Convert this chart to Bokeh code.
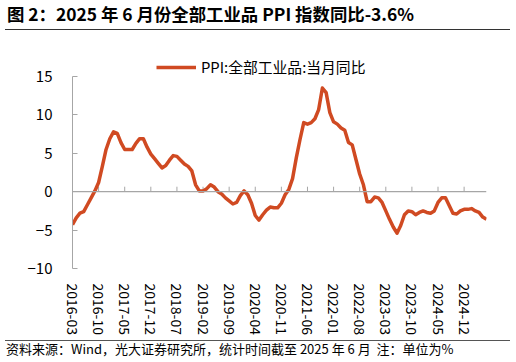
import pandas as pd
from bokeh.plotting import figure
from bokeh.layouts import column
from bokeh.models import (Range1d, FixedTicker, Span, Div, Legend, LegendItem,
                          ColumnDataSource)
from bokeh.embed import file_html
from bokeh.resources import INLINE

# ---- data ----
months = [str(p) for p in pd.period_range("2016-03", "2025-06", freq="M")]
ppi_yoy = [
    -4.3, -3.4, -2.8, -2.6, -1.7, -0.8, 0.1, 1.2, 3.3, 5.5,
    6.9, 7.8, 7.6, 6.4, 5.5, 5.5, 5.5, 6.3, 6.9, 6.9, 5.8, 4.9,
    4.3, 3.7, 3.1, 3.4, 4.1, 4.7, 4.6, 4.1, 3.6, 3.3, 2.7, 0.9,
    0.1, 0.1, 0.4, 0.9, 0.6, 0.0, -0.3, -0.8, -1.2, -1.6, -1.4, -0.5,
    0.1, -0.4, -1.5, -3.1, -3.7, -3.0, -2.4, -2.0, -2.1, -2.1, -1.5, -0.4,
    0.3, 1.7, 4.4, 6.8, 9.0, 8.8, 9.0, 9.5, 10.7, 13.5, 12.9, 10.3,
    9.1, 8.8, 8.3, 8.0, 6.4, 6.1, 4.2, 2.3, 0.9, -1.3, -1.3, -0.7,
    -0.8, -1.4, -2.5, -3.6, -4.6, -5.4, -4.4, -3.0, -2.5, -2.6, -3.0, -2.7,
    -2.5, -2.7, -2.8, -2.5, -1.4, -0.8, -0.8, -1.8, -2.8, -2.9, -2.5, -2.3,
    -2.3, -2.2, -2.5, -2.7, -3.3, -3.6,
]
tick_step = 7
y_ticks = [-10, -5, 0, 5, 10, 15]
series_name = "PPI:全部工业品:当月同比"
title_text = "图 2：2025 年 6 月份全部工业品 PPI 指数同比-3.6%"
source_text = "资料来源：Wind，光大证券研究所，统计时间截至 2025 年 6 月&nbsp;&nbsp;注：单位为%"

FONT = "Noto Sans CJK SC"
LINE_COLOR = "#D04A22"
AXIS_COLOR = "#A6A6A6"

x_idx = list(range(len(months)))
tick_pos = [i for i in x_idx if i % tick_step == 0]

title_div = Div(
    text=f'<div style="width:505px;margin-left:5px;height:30px;box-sizing:border-box;'
         f'border-bottom:1.5px solid #333;font-family:\'{FONT}\';font-size:17.4px;'
         f'font-weight:bold;line-height:28px;padding-left:2px;color:#000;'
         f'white-space:nowrap">{title_text}</div>',
    width=516, height=33, margin=(0, 0, 0, 0))

p = figure(width=516, height=307, output_backend="svg", toolbar_location=None,
           x_range=Range1d(0, len(months) - 1), y_range=Range1d(-10, 19.3),
           min_border_left=72, min_border_right=30, min_border_top=10,
           min_border_bottom=72, margin=(0, 0, 0, 0))
p.outline_line_color = None
p.xgrid.visible = False
p.ygrid.visible = False

# y axis
ya = p.yaxis[0]
ya.ticker = FixedTicker(ticks=y_ticks)
ya.bounds = (min(y_ticks), max(y_ticks))
ya.axis_line_color = AXIS_COLOR
ya.major_tick_line_color = AXIS_COLOR
ya.major_tick_in = 5
ya.major_tick_out = 0
ya.minor_tick_line_color = None
ya.major_label_text_font = FONT
ya.major_label_text_font_size = "15px"
ya.major_label_text_color = "#000000"
ya.major_label_standoff = 20

# x axis (labels at bottom, line drawn at zero)
xa = p.xaxis[0]
xa.ticker = FixedTicker(ticks=tick_pos)
xa.major_label_overrides = {i: months[i] for i in tick_pos}
xa.axis_line_color = None
xa.major_tick_line_color = None
xa.minor_tick_line_color = None
xa.major_label_orientation = "vertical"
xa.major_label_text_font = FONT
xa.major_label_text_font_size = "14px"
xa.major_label_text_color = "#000000"
xa.major_label_standoff = 9

p.add_layout(Span(location=0, dimension="width", line_color=AXIS_COLOR, line_width=1.2))
p.segment(x0=tick_pos, y0=[0] * len(tick_pos), x1=tick_pos, y1=[0.65] * len(tick_pos),
          line_color=AXIS_COLOR, line_width=1)

src = ColumnDataSource(dict(x=x_idx, y=ppi_yoy))
r = p.line("x", "y", source=src, line_color=LINE_COLOR, line_width=3.5, line_join="round")

legend = Legend(items=[LegendItem(label=series_name, renderers=[r])],
                location=(84, 191), padding=0, margin=0, border_line_color=None,
                background_fill_alpha=0, glyph_width=40, glyph_height=20, label_height=20,
                label_standoff=5, label_text_font=FONT, label_text_font_size="14.8px",
                label_text_color="#000000")
p.add_layout(legend, "center")

foot_div = Div(
    text=f'<div style="width:505px;margin-left:5px;height:22px;box-sizing:border-box;'
         f'border-top:1.5px solid #555;font-family:\'{FONT}\';font-size:13px;'
         f'line-height:16px;padding-left:1px;color:#000;white-space:nowrap">{source_text}</div>',
    width=516, height=22, margin=(0, 0, 0, 0))

layout = column(title_div, p, foot_div, spacing=0)

open("out.html", "w").write(file_html(layout, INLINE))
